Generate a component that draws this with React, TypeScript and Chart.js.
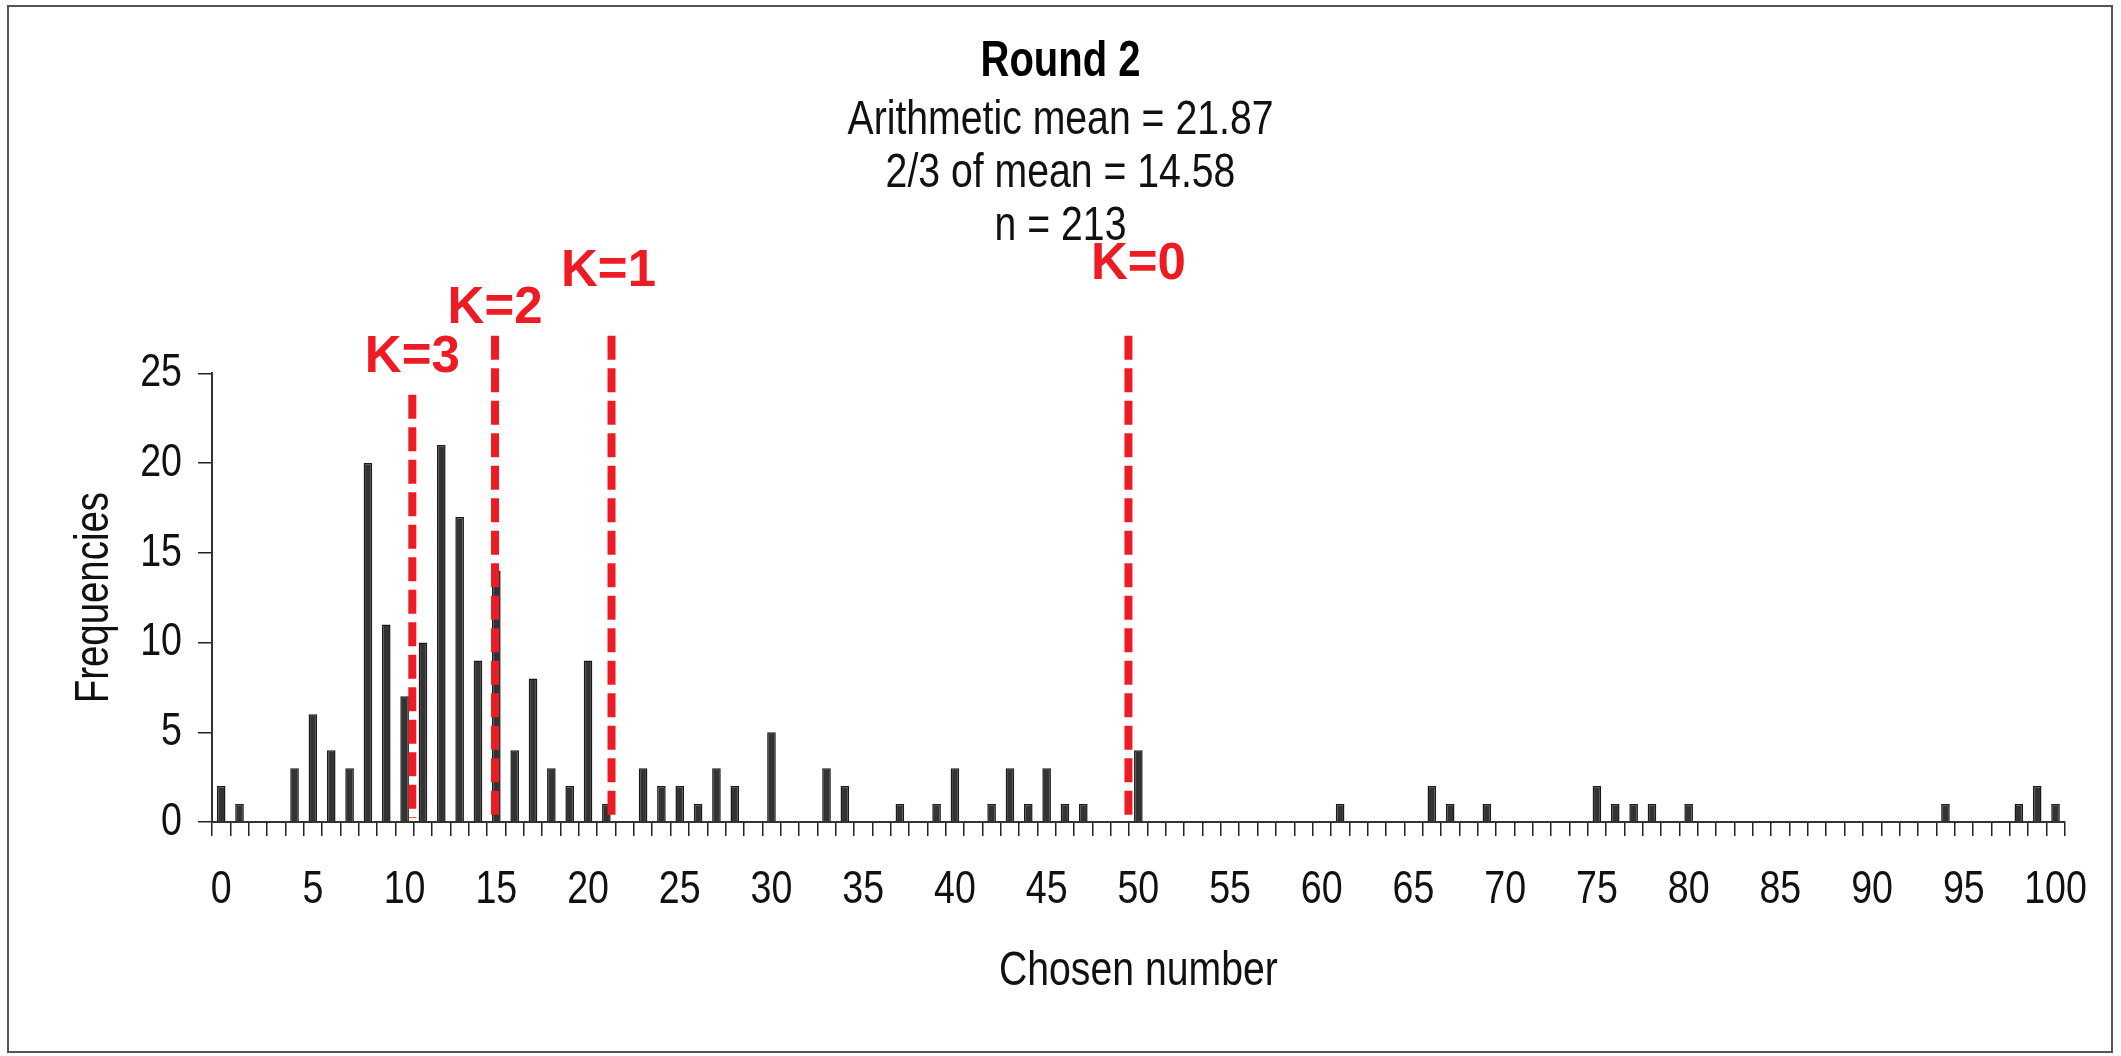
import { useEffect, useRef } from 'react';
import { Chart, registerables } from 'chart.js';

Chart.register(...registerables);

// Frequencies of chosen numbers (numbers not listed were chosen by nobody)
const chosenNumbers = [
  0, 1, 4, 5, 6, 7, 8, 9, 10, 11, 12, 13, 14, 15, 16, 17, 18, 19, 20, 21,
  23, 24, 25, 26, 27, 28, 30, 33, 34, 37, 39, 40, 42, 43, 44, 45, 46, 47,
  50, 61, 66, 67, 69, 75, 76, 77, 78, 80, 94, 98, 99, 100,
];
const frequencies = [
  2, 1, 3, 6, 4, 3, 20, 11, 7, 10, 21, 17, 9, 14, 4, 8, 3, 2, 9, 1,
  3, 2, 2, 1, 3, 2, 5, 3, 2, 1, 1, 3, 1, 3, 1, 3, 1, 1,
  4, 1, 2, 1, 1, 2, 1, 1, 1, 1, 1, 1, 2, 1,
];

const xLabels = Array.from({ length: 101 }, (_, i) => String(i));
const yTickStep = 5;
const yMax = 25;

const titleText = 'Round 2';
const subtitleLines = ['Arithmetic mean = 21.87', '2/3 of mean = 14.58', 'n = 213'];
const xTitle = 'Chosen number';
const yTitle = 'Frequencies';

// Level-K reference lines (position on the number axis)
const kNames = ['K=0', 'K=1', 'K=2', 'K=3'];
const kValues = [49.46, 21.28, 14.93, 10.42];
// where each dashed line starts and where its label sits, in frequency units
const kLineTop = [27.1, 27.1, 27.1, 23.8];
const kLabelBase = [30.24, 29.85, 27.8, 25.05];

const counts = xLabels.map((_, i) => {
  const k = chosenNumbers.indexOf(i);
  return k >= 0 ? frequencies[k] : 0;
});

const SANS = "'Liberation Sans', Arial, sans-serif";
const NARROW_X = 0.8; // horizontal squeeze that gives the condensed lettering
const RED = '#ED1C24';
const INK = '#111111';
const kLabelDx = [10, -3, 0, 0];

// Chart.js text goes through ctx.fillText; squeeze it horizontally around its anchor.
function condenseText(ctx: any) {
  if (ctx.__plainFillText) return;
  const plain = ctx.fillText;
  ctx.__plainFillText = plain;
  ctx.fillText = function (text: string, x: number, y: number, maxWidth?: number) {
    this.save();
    this.translate(x, y);
    this.scale(NARROW_X, 1);
    if (maxWidth === undefined) plain.call(this, text, 0, 0);
    else plain.call(this, text, 0, 0, maxWidth / NARROW_X);
    this.restore();
  };
}

const framePlugin = {
  id: 'frame',
  beforeInit(chart: any) {
    condenseText(chart.ctx);
  },
  beforeDraw(chart: any) {
    const { ctx, width, height } = chart;
    condenseText(ctx);
    ctx.save();
    ctx.fillStyle = '#ffffff';
    ctx.fillRect(0, 0, width, height);
    ctx.restore();
  },
  afterDraw(chart: any) {
    const { ctx } = chart;
    ctx.save();
    ctx.strokeStyle = '#555555';
    ctx.lineWidth = 2;
    ctx.strokeRect(8, 6, 2104, 1046);
    ctx.restore();
  },
};

const kLinesPlugin = {
  id: 'kLines',
  afterDatasetsDraw(chart: any) {
    const ctx = chart.ctx;
    const xs = chart.scales.x;
    const ys = chart.scales.y;
    const base = ys.getPixelForValue(0);
    const plainFill = ctx.__plainFillText || ctx.fillText;
    ctx.save();
    kValues.forEach((v, i) => {
      const x = xs.getPixelForValue(v);
      const top = ys.getPixelForValue(kLineTop[i]);
      ctx.beginPath();
      ctx.setLineDash([24, 8.5]);
      ctx.lineCap = 'butt';
      ctx.lineWidth = 8;
      ctx.strokeStyle = RED;
      ctx.moveTo(x, top);
      ctx.lineTo(x, base - 4);
      ctx.stroke();

      ctx.setLineDash([]);
      ctx.fillStyle = RED;
      ctx.font = `bold 51px ${SANS}`;
      ctx.textAlign = 'center';
      ctx.textBaseline = 'alphabetic';
      plainFill.call(ctx, kNames[i], x + kLabelDx[i], ys.getPixelForValue(kLabelBase[i]));
    });
    ctx.restore();
  },
};

export default function App() {
  const canvasRef = useRef<HTMLCanvasElement | null>(null);

  useEffect(() => {
    if (!canvasRef.current) return;
    const tickFont = { family: SANS, size: 47 };
    const chart = new Chart(canvasRef.current, {
      type: 'bar',
      data: {
        labels: xLabels,
        datasets: [
          {
            data: counts,
            backgroundColor: '#333333',
            borderColor: '#1a1a1a',
            borderWidth: 1.5,
            categoryPercentage: 1,
            barPercentage: 0.47,
          },
        ],
      },
      options: {
        responsive: false,
        animation: false,
        devicePixelRatio: 1,
        layout: { padding: 0 },
        plugins: {
          legend: { display: false },
          tooltip: { enabled: false },
          title: {
            display: true,
            text: titleText,
            color: '#000000',
            font: { family: SANS, size: 50, weight: 'bold', lineHeight: 1.066 },
            padding: { top: 35.4, bottom: 0 },
          },
          subtitle: {
            display: true,
            text: subtitleLines,
            color: INK,
            font: { family: SANS, size: 49, weight: 'normal', lineHeight: 1.088 },
            padding: { top: 5, bottom: 119.7 },
          },
        },
        scales: {
          x: {
            type: 'category',
            offset: true,
            grid: {
              offset: true,
              drawOnChartArea: false,
              drawTicks: true,
              tickLength: 14,
              color: '#222222',
              lineWidth: 1.5,
            },
            border: { display: true, color: '#333333', width: 2 },
            ticks: {
              autoSkip: false,
              maxRotation: 0,
              minRotation: 0,
              padding: 26,
              color: INK,
              font: tickFont,
              callback: (_v: any, i: number) => (i % 5 === 0 ? xLabels[i] : ''),
            },
            title: {
              display: true,
              text: xTitle,
              color: INK,
              font: { family: SANS, size: 49, lineHeight: 1.2 },
              padding: { top: 0, bottom: 55 },
            },
            afterFit: (s: any) => {
              s.height = 234;
            },
          },
          y: {
            type: 'linear',
            min: 0,
            max: yMax,
            grid: {
              drawOnChartArea: false,
              drawTicks: true,
              tickLength: 14,
              color: '#222222',
              lineWidth: 1.5,
            },
            border: { display: true, color: '#333333', width: 2 },
            ticks: { stepSize: yTickStep, padding: 16, color: INK, font: tickFont },
            title: {
              display: true,
              text: yTitle,
              color: INK,
              font: { family: SANS, size: 48, lineHeight: 1.2 },
              padding: { top: 66, bottom: 0 },
            },
            afterFit: (s: any) => {
              s.width = 212;
            },
          },
          rightGap: {
            type: 'linear',
            position: 'right',
            display: true,
            grid: { display: false },
            border: { display: false },
            ticks: { display: false },
            afterFit: (s: any) => {
              s.width = 54;
            },
          },
        },
      } as any,
      plugins: [framePlugin, kLinesPlugin],
    });
    return () => chart.destroy();
  }, []);

  return (
    <div style={{ position: 'fixed', left: 0, top: 0, width: 2121, height: 1056, background: '#fff' }}>
      <canvas ref={canvasRef} width={2121} height={1056} style={{ display: 'block', width: 2121, height: 1056 }} />
    </div>
  );
}
